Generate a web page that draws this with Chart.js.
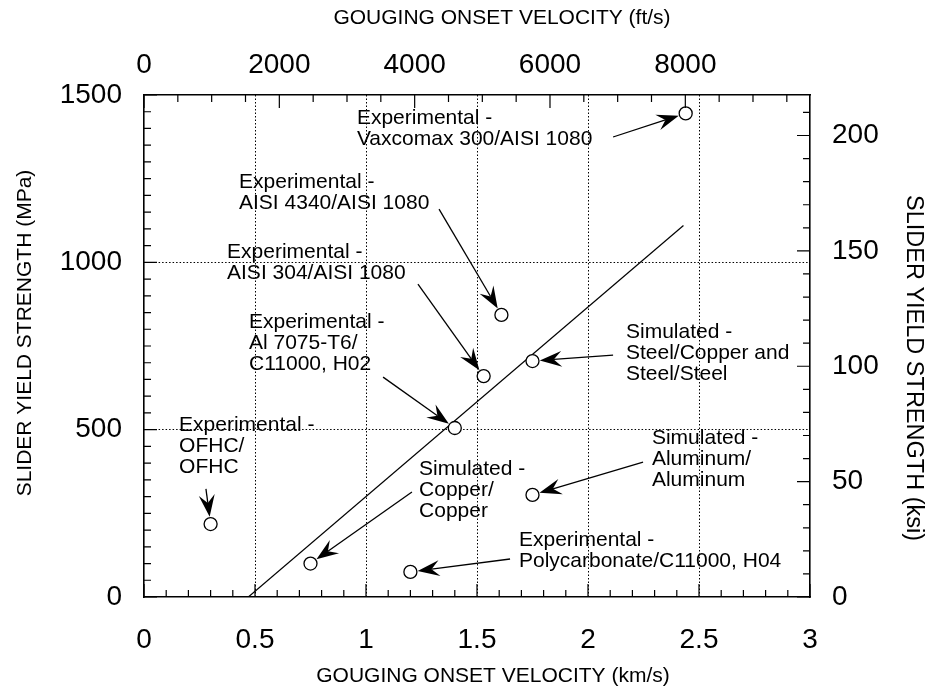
<!DOCTYPE html>
<html><head><meta charset="utf-8">
<script src="https://cdn.jsdelivr.net/npm/chart.js@4/dist/chart.umd.min.js"></script>
<style>html,body{margin:0;padding:0;background:#fff}</style>
</head><body>
<canvas id="c" width="927" height="689"></canvas>
<script>
// ---------------- DATA ----------------
const pointNames = ["OFHC/OFHC", "Copper/Copper (sim)", "Polycarbonate/C11000, H04", "Al 7075-T6/C11000, H02",
  "AISI 304/AISI 1080", "Steel/Copper and Steel/Steel (sim)", "Aluminum/Aluminum (sim)", "AISI 4340/AISI 1080", "Vaxcomax 300/AISI 1080"];
const velocityKms = [0.30, 0.75, 1.20, 1.40, 1.53, 1.75, 1.75, 1.61, 2.44];
const strengthMPa = [218, 100, 75, 505, 660, 705, 305, 843, 1445];
const fitVelocityKms = [0.47, 2.43];
const fitStrengthMPa = [0, 1110];
const kmsTicks = [0, 0.5, 1, 1.5, 2, 2.5, 3];
const ftsTicks = [0, 2000, 4000, 6000, 8000];
const mpaTicks = [0, 500, 1000, 1500];
const ksiTicks = [0, 50, 100, 150, 200];
const labelTexts = [
  ["Experimental -", "OFHC/", "OFHC"],
  ["Simulated -", "Copper/", "Copper"],
  ["Experimental -", "Polycarbonate/C11000, H04"],
  ["Experimental -", "Al 7075-T6/", "C11000, H02"],
  ["Experimental -", "AISI 304/AISI 1080"],
  ["Simulated -", "Steel/Copper and", "Steel/Steel"],
  ["Simulated -", "Aluminum/", "Aluminum"],
  ["Experimental -", "AISI 4340/AISI 1080"],
  ["Experimental -", "Vaxcomax 300/AISI 1080"]
];

// ---------------- LAYOUT / STYLE ----------------
const FT_PER_KM = 3280.84, MPA_PER_KSI = 6.89476;
const FONT = "'Liberation Sans', Arial, Helvetica, sans-serif";
// label anchor (left, first line centre) and arrow tail, in data units (km/s, MPa)
const labelPlacement = [
  {at: [0.158, 514], tail: [0.279, 323]},
  {at: [1.239, 382], tail: [1.207, 314]},
  {at: [1.689, 170], tail: [1.649, 113.5]},
  {at: [0.473, 822], tail: [1.077, 657]},
  {at: [0.374, 1031], tail: [1.234, 935]},
  {at: [2.171, 792], tail: [2.113, 723]},
  {at: [2.288, 475], tail: [2.248, 403]},
  {at: [0.428, 1240], tail: [1.329, 1159]},
  {at: [0.959, 1431], tail: [2.113, 1374.5]}
];
const POINT_R = 6.5;

const tickFont = {family: FONT, size: 28, lineHeight: 1};

function setTicks(vals){ return s => { s.ticks = vals.map(v => ({value: v})); }; }

const annotationPlugin = {
  id: 'annotations',
  afterDatasetsDraw(chart){
    const ctx = chart.ctx, xs = chart.scales.x, ys = chart.scales.y;
    ctx.save();
    ctx.fillStyle = '#000'; ctx.strokeStyle = '#000';
    ctx.font = "21px " + FONT;
    ctx.textBaseline = 'middle'; ctx.textAlign = 'left';
    labelTexts.forEach((lines, i) => {
      const p = labelPlacement[i];
      const lx = xs.getPixelForValue(p.at[0]), ly = ys.getPixelForValue(p.at[1]);
      lines.forEach((t, k) => ctx.fillText(t, lx, ly + k * 21));
      // arrow
      const tx = xs.getPixelForValue(p.tail[0]), ty = ys.getPixelForValue(p.tail[1]);
      const px = xs.getPixelForValue(velocityKms[i]), py = ys.getPixelForValue(strengthMPa[i]);
      let dx = px - tx, dy = py - ty; const d = Math.hypot(dx, dy); dx /= d; dy /= d;
      const tipX = px - dx * (POINT_R + 0.8), tipY = py - dy * (POINT_R + 0.8);
      const L = 22, W = 8, N = 8;
      const nx = -dy, ny = dx;
      const bx = tipX - dx * L, by = tipY - dy * L;
      const mx = tipX - dx * (L - N), my = tipY - dy * (L - N);
      ctx.lineWidth = 1.3;
      ctx.beginPath(); ctx.moveTo(tx, ty); ctx.lineTo(mx, my); ctx.stroke();
      ctx.beginPath();
      ctx.moveTo(tipX, tipY);
      ctx.lineTo(bx + nx * W, by + ny * W);
      ctx.lineTo(mx, my);
      ctx.lineTo(bx - nx * W, by - ny * W);
      ctx.closePath(); ctx.fill();
    });
    ctx.restore();
  }
};

const frameTicksPlugin = {
  id: 'frameTicks',
  afterDraw(chart){
    const ctx = chart.ctx, a = chart.chartArea, s = chart.scales;
    const MAJ = 13, MIN = 7;
    ctx.save();
    ctx.strokeStyle = '#000'; ctx.lineWidth = 1.2;
    ctx.beginPath();
    for (let v = 0; v <= 30; v++) { const x = s.x.getPixelForValue(v / 10); const len = v % 5 === 0 ? MAJ : MIN;
      ctx.moveTo(x, a.bottom); ctx.lineTo(x, a.bottom - len); }
    for (let v = 0; v <= 9500; v += 500) { const x = s.x2.getPixelForValue(v); const len = v % 2000 === 0 ? MAJ : MIN;
      ctx.moveTo(x, a.top); ctx.lineTo(x, a.top + len); }
    for (let v = 0; v <= 1500; v += 50) { const y = s.y.getPixelForValue(v); const len = v % 500 === 0 ? MAJ : MIN;
      ctx.moveTo(a.left, y); ctx.lineTo(a.left + len, y); }
    for (let v = 0; v <= 210; v += 10) { const y = s.y2.getPixelForValue(v); const len = v % 50 === 0 ? MAJ : MIN;
      ctx.moveTo(a.right, y); ctx.lineTo(a.right - len, y); }
    ctx.stroke();
    // axis titles
    ctx.fillStyle = '#000'; ctx.textAlign = 'center'; ctx.textBaseline = 'middle';
    const cx = (a.left + a.right) / 2, cy = (a.top + a.bottom) / 2;
    ctx.font = "21px " + FONT;
    ctx.fillText('GOUGING ONSET VELOCITY (ft/s)', cx + 25, 18);
    ctx.fillText('GOUGING ONSET VELOCITY (km/s)', cx + 16, 676);
    ctx.save(); ctx.translate(25, cy - 13); ctx.rotate(-Math.PI / 2);
    ctx.fillText('SLIDER YIELD STRENGTH (MPa)', 0, 0); ctx.restore();
    ctx.font = "23.5px " + FONT;
    ctx.save(); ctx.translate(913, cy + 22); ctx.rotate(Math.PI / 2);
    ctx.fillText('SLIDER YIELD STRENGTH (ksi)', 0, 0); ctx.restore();
    ctx.restore();
  }
};

new Chart(document.getElementById('c'), {
  type: 'scatter',
  data: {
    datasets: [
      {
        type: 'scatter', label: 'Data',
        data: velocityKms.map((v, i) => ({x: v, y: strengthMPa[i]})),
        pointStyle: 'circle', pointRadius: POINT_R, pointBackgroundColor: '#fff',
        pointBorderColor: '#000', pointBorderWidth: 1.3, order: 1
      },
      {
        type: 'line', label: 'Fit',
        data: fitVelocityKms.map((v, i) => ({x: v, y: fitStrengthMPa[i]})),
        borderColor: '#000', borderWidth: 1.2, pointRadius: 0, fill: false, order: 2
      }
    ]
  },
  options: {
    responsive: false, animation: false, devicePixelRatio: 1,
    layout: {padding: 0},
    plugins: {legend: {display: false}, tooltip: {enabled: false}},
    scales: {
      x: {
        type: 'linear', position: 'bottom', min: 0, max: 3,
        afterBuildTicks: setTicks(kmsTicks),
        afterFit: s => { s.height = 92; },
        ticks: {font: tickFont, color: '#000', padding: 29, maxRotation: 0, autoSkip: false,
          callback: v => String(v)},
        grid: {drawTicks: false, lineWidth: 1,
          color: c => (c.tick && (c.tick.value === 0 || c.tick.value === 3)) ? 'rgba(0,0,0,0)' : '#000'},
        border: {display: true, color: '#000', width: 1.6, dash: [1.5, 2]}
      },
      x2: {
        type: 'linear', position: 'top', min: 0, max: 3 * FT_PER_KM,
        afterBuildTicks: setTicks(ftsTicks),
        afterFit: s => { s.height = 95; },
        ticks: {font: tickFont, color: '#000', padding: 16, maxRotation: 0, autoSkip: false,
          callback: v => String(v)},
        grid: {display: false, drawTicks: false},
        border: {display: true, color: '#000', width: 1.6}
      },
      y: {
        type: 'linear', position: 'left', min: 0, max: 1500,
        afterBuildTicks: setTicks(mpaTicks),
        afterFit: s => { s.width = 144; },
        ticks: {font: tickFont, color: '#000', padding: 22, autoSkip: false, callback: v => String(v)},
        grid: {drawTicks: false, lineWidth: 1,
          color: c => (c.tick && (c.tick.value === 500 || c.tick.value === 1000)) ? '#000' : 'rgba(0,0,0,0)'},
        border: {display: true, color: '#000', width: 1.6, dash: [1.5, 2]}
      },
      y2: {
        type: 'linear', position: 'right', min: 0, max: 1500 / MPA_PER_KSI,
        afterBuildTicks: setTicks(ksiTicks),
        afterFit: s => { s.width = 117; },
        ticks: {font: tickFont, color: '#000', padding: 22, autoSkip: false, callback: v => String(v)},
        grid: {display: false, drawTicks: false},
        border: {display: true, color: '#000', width: 1.6}
      }
    }
  },
  plugins: [annotationPlugin, frameTicksPlugin]
});
</script>
</body></html>
